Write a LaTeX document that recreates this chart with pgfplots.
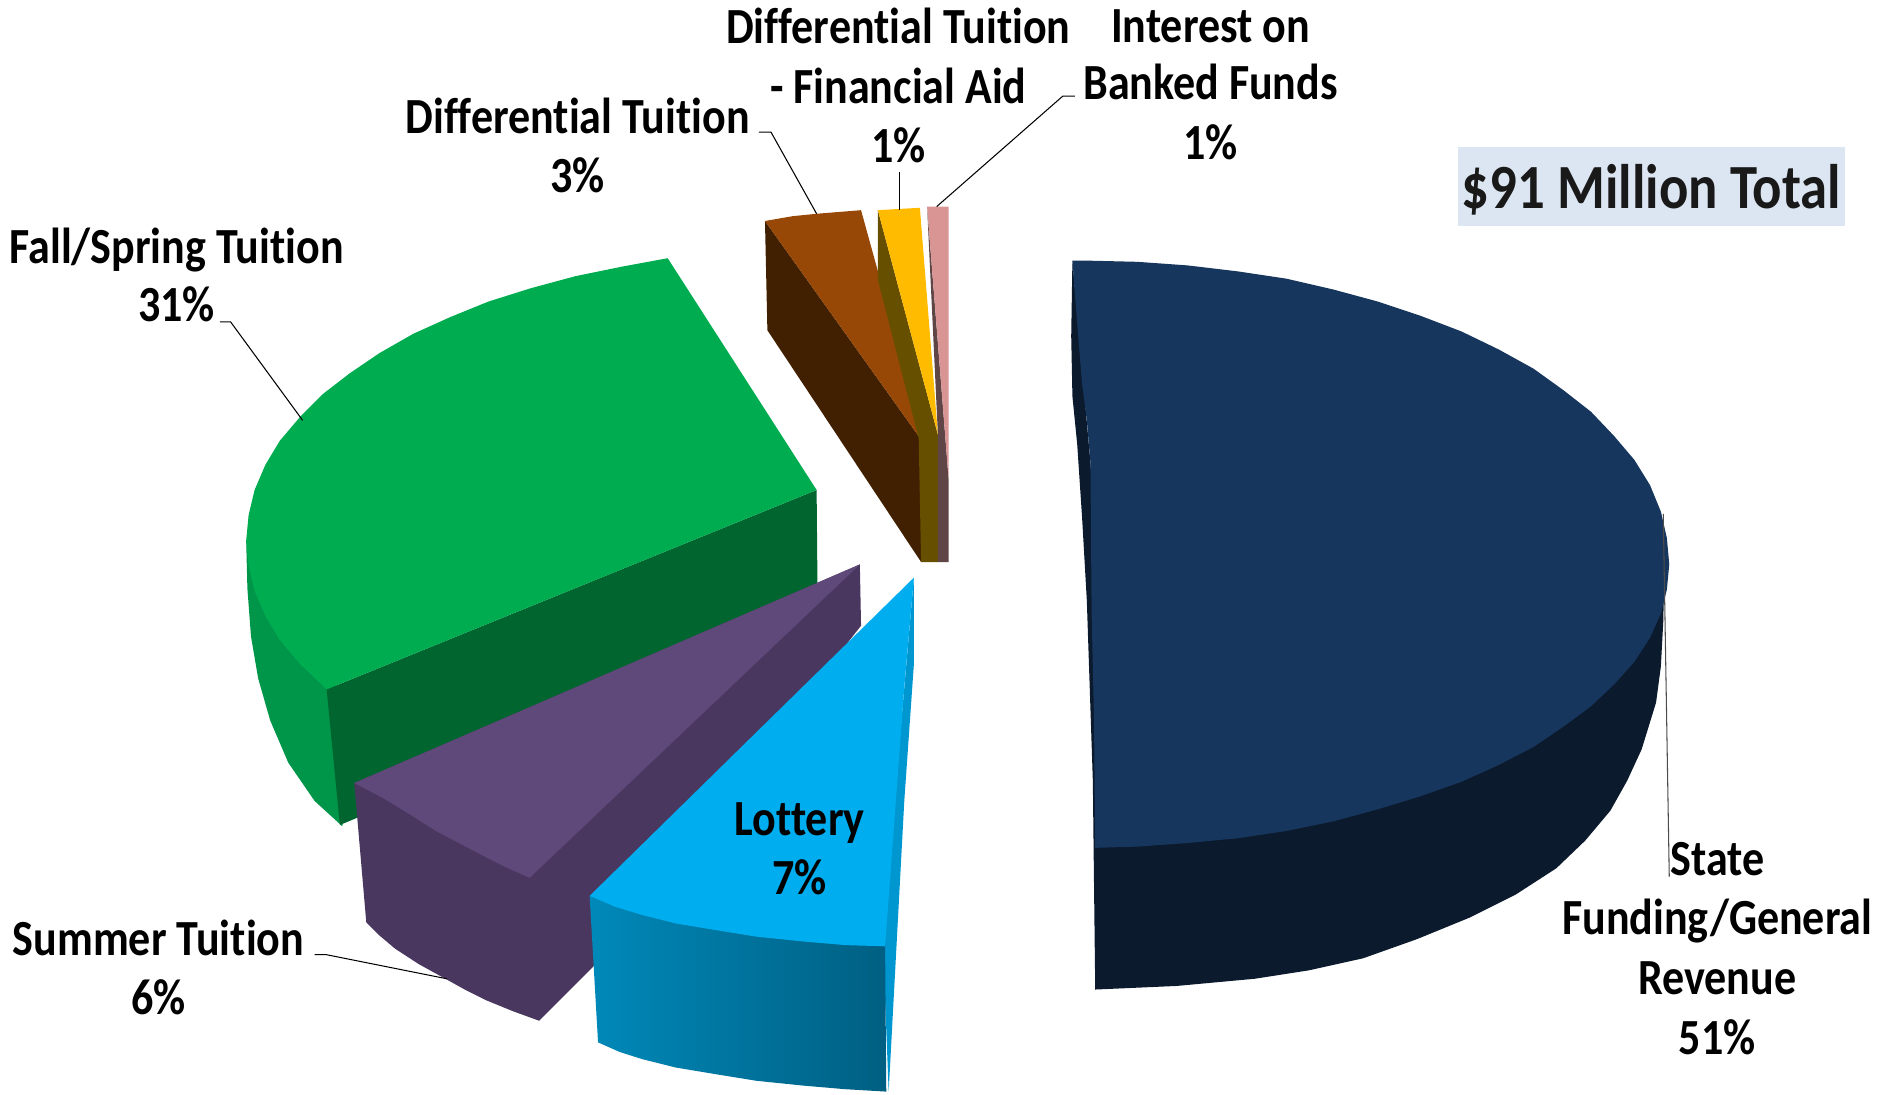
\documentclass[border=0pt]{standalone}
\usepackage{pgfplots}
\usepackage{fontspec}
\pgfplotsset{compat=1.18}
\setmainfont{Carlito}
\newfontfamily\lblfont[FakeStretch=0.87,Ligatures=NoCommon]{Carlito}
\definecolor{navytop}{HTML}{17365D}
\definecolor{navyside}{HTML}{0B1A2D}
\definecolor{greentop}{HTML}{00AC50}
\definecolor{greenside}{HTML}{00964A}
\definecolor{greendark}{HTML}{00652E}
\definecolor{purpletop}{HTML}{5F497A}
\definecolor{purpleside}{HTML}{4A3760}
\definecolor{bluetop}{HTML}{00ADEE}
\definecolor{bluesliver}{HTML}{0097D0}
\definecolor{bluefrontL}{HTML}{0089B9}
\definecolor{bluefrontR}{HTML}{005F82}
\definecolor{browntop}{HTML}{974806}
\definecolor{brownside}{HTML}{402000}
\definecolor{yellowtop}{HTML}{FFBB00}
\definecolor{yellowside}{HTML}{665000}
\definecolor{pinktop}{HTML}{D99594}
\definecolor{pinkside}{HTML}{5F4545}
\definecolor{boxfill}{HTML}{DCE6F2}
% Each label line is placed by its centre and its baseline
\newcommand{\lbl}[3]{\node[font=\lblfont\bfseries\fontsize{14.4}{16}\selectfont,text=black,inner sep=0pt,anchor=base] at (axis cs:#1,#2) {#3};}
\begin{document}
\begin{tikzpicture}
\useasboundingbox (0,0) rectangle (18.83,10.94);
\begin{axis}[
  at={(0,0)}, anchor=south west,
  scale only axis, width=18.83cm, height=10.94cm,
  xmin=0, xmax=1568, ymin=0, ymax=911, y dir=reverse,
  hide axis, clip=false, no markers,
]
% State Funding / General Revenue
\addplot[fill=navyside,draw=none] coordinates {(893,217)(892,280)(893,330)(897,370)(901,430)(905,500)(910,650)(912,824)(925,700)(908,385)} --cycle;
\addplot[fill=navyside,draw=none] coordinates {(912,700)(1383,426)(1386,470)(1385,518)(1383,555)(1379,585)(1367,624)(1355,650)(1341,675)(1320,700)(1296,723)(1262,745)(1224,764)(1180,782)(1135,798)(1090,808)(1045,815)(980,821)(912,824)} --cycle;
\addplot[fill=navytop,draw=none] coordinates {(893,217)(905,217)(947,218)(989,221)(1031,226)(1071,232)(1110,241)(1147,251)(1183,263)(1217,276)(1248,291)(1277,307)(1302,325)(1325,343)(1344,363)(1361,383)(1374,404)(1383,426)(1388,448)(1390,470)(1388,491)(1383,511)(1374,531)(1361,551)(1344,570)(1325,588)(1302,605)(1277,622)(1248,637)(1217,651)(1183,663)(1147,674)(1110,684)(1071,692)(1031,698)(989,702)(947,705)(912,706)(911,600)(909,511)(908,385)(905,350)(901,319)(897,270)} --cycle;
% Fall/Spring Tuition
\addplot[fill=greenside,draw=none] coordinates {(205,450)(206,490)(209,530)(215,565)(225,600)(240,635)(262,667)(285,688)(300,600)(272,560)} --cycle;
\addplot[fill=greendark,draw=none] coordinates {(272,574)(680,408)(681,520)(283,687)} --cycle;
\addplot[fill=greentop,draw=none] coordinates {(556,215)(518,222)(479,230)(442,240)(407,251)(375,264)(344,278)(316,294)(291,311)(269,328)(250,347)(233,367)(221,387)(212,408)(207,429)(205,450)(207,471)(212,492)(221,513)(233,533)(250,553)(272,574)(680,408)} --cycle;
% Summer Tuition
\addplot[fill=purpleside,draw=none] coordinates {(716,470)(717,521)(493,806)(449,850)(427,842)(405,833)(387,824)(369,814)(349,803)(329,790)(316,779)(305,768)(295,652)} --cycle;
\addplot[fill=purpletop,draw=none] coordinates {(716,470)(295,652)(318,664)(341,678)(363,692)(384,703)(405,714)(423,723)(441,731)} --cycle;
% Lottery
\addplot[fill=bluesliver,draw=none] coordinates {(761,481)(761,553)(753,667)(740,909)(735,780)} --cycle;
\addplot[left color=bluefrontL,right color=bluefrontR,draw=none] coordinates {(491,746)(498,868)(516,876)(535,882)(563,889)(593,894)(630,900)(669,904)(704,907)(738,909)(737,785)} --cycle;
\addplot[fill=bluetop,draw=none] coordinates {(761,481)(491,746)(512,755)(535,762)(563,769)(593,774)(630,780)(669,784)(704,787)(737,788)(753,572)} --cycle;
% Differential Tuition
\addplot[fill=brownside,draw=none] coordinates {(637,184)(639,275)(767,468)(767,366)} --cycle;
\addplot[fill=browntop,draw=none] coordinates {(637,184)(660,180)(680,178)(717,175)(733,233)(767,366)} --cycle;
% Differential Tuition - Financial Aid
\addplot[fill=yellowside,draw=none] coordinates {(731,175)(731,233)(765,365)(767,468)(781,468)(781,362)} --cycle;
\addplot[fill=yellowtop,draw=none] coordinates {(731,175)(766,173)(781,362)} --cycle;
% Interest on Banked Funds
\addplot[fill=pinkside,draw=none] coordinates {(772,172)(781,362)(781,468)(790,468)(790,400)} --cycle;
\addplot[fill=pinktop,draw=none] coordinates {(772,172)(790,172)(790,400)} --cycle;
% Leader lines
\addplot[black,line width=0.3pt] coordinates {(183,268)(192,268)(252,350)};
\addplot[black,line width=0.3pt] coordinates {(632,110)(642,110)(680,178)};
\addplot[black,line width=0.3pt] coordinates {(749,143)(749,175)};
\addplot[black,line width=0.3pt] coordinates {(895,80)(885,80)(780,172)};
\addplot[black!70,line width=0.3pt] coordinates {(1385,428)(1390,730)};
\addplot[black,line width=0.3pt] coordinates {(262,795)(272,795)(372,815)};
% Total box
\addplot[fill=boxfill,draw=none] coordinates {(1214,122)(1536,122)(1536,188)(1214,188)} --cycle;
\node[font=\lblfont\bfseries\fontsize{17.9}{22}\selectfont,text=black!90,inner sep=0pt,anchor=base] at (axis cs:1375,174) {\$91 Million Total};
% Slice labels
\lbl{748}{36}{Differential Tuition}
\lbl{748}{86}{- Financial Aid}
\lbl{748}{135}{1\%}
\lbl{1008}{35}{Interest on}
\lbl{1008}{83}{Banked Funds}
\lbl{1008}{133}{1\%}
\lbl{481}{111}{Differential Tuition}
\lbl{481}{160}{3\%}
\lbl{147}{219}{Fall/Spring Tuition}
\lbl{147}{268}{31\%}
\lbl{132}{796}{Summer Tuition}
\lbl{132}{845}{6\%}
\lbl{666}{696}{Lottery}
\lbl{666}{745}{7\%}
\lbl{1430}{729}{State}
\lbl{1430}{778}{Funding/General}
\lbl{1430}{828}{Revenue}
\lbl{1430}{878}{51\%}
\end{axis}
\end{tikzpicture}
\end{document}
